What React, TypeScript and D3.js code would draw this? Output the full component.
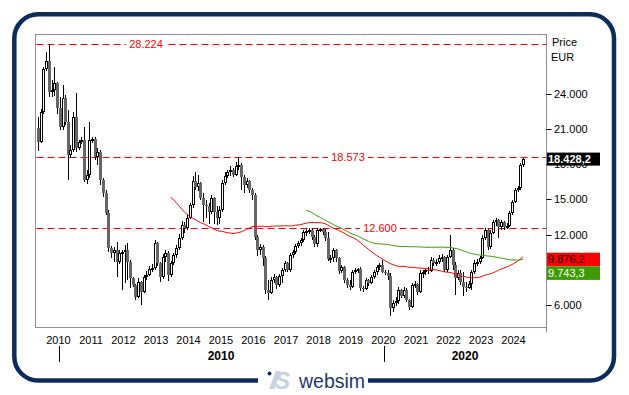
import React from 'react';
import * as d3 from 'd3';

// ---------- DATA (monthly candles, May 2009 – Apr 2024, EUR) ----------
const START_YEAR = 2009;
const START_MONTH = 4; // May (0-based)
const FIRST_OPEN = 21080;

const closes = [
  19883, 22439, 26102, 26784, 24143, 24313, 24909, 22780,
  21161, 23631, 21587, 18776, 19202, 22013, 19372, 19883, 20053, 16646, 17072, 20053,
  20139, 18606, 19031, 16646, 15538, 13834, 10853, 10427, 10683, 9660, 10427, 10512,
  10683, 9660, 8297, 7701, 6678, 7956, 7104, 8382, 8553, 9064, 9149, 11279,
  9575, 8382, 10086, 10427, 8553, 9575, 10257, 10853, 11705, 12812, 12557, 13409,
  14516, 16560, 16049, 16390, 15112, 14516, 14431, 13920, 15112, 13920, 13409, 14090,
  16390, 16986, 17327, 17498, 17072, 17838, 17924, 16901, 16220, 16560, 15794, 15368,
  11790, 10683, 10938, 10001, 7275, 7019, 8127, 8382, 7701, 8468, 8979, 9575,
  8979, 10257, 10512, 11023, 11279, 11534, 12216, 12301, 12386, 11790, 11194, 12386,
  12471, 12216, 11705, 9916, 10001, 10683, 10001, 8893, 9234, 8127, 7701, 7530,
  8808, 8979, 9064, 7445, 7360, 8127, 7871, 8382, 8808, 9234, 9405, 8808,
  8723, 8468, 5741, 6167, 6337, 7275, 6764, 7275, 6423, 5826, 7701, 7786,
  7104, 8723, 8808, 8979, 8893, 9831, 9575, 9660, 10001, 10086, 8979, 10086,
  10683, 9405, 8297, 8723, 7956, 7530, 7445, 7786, 8808, 9575, 9660, 10001,
  11705, 12386, 10938, 12131, 13068, 13238, 12642, 13068, 12642, 12727, 13834, 14772,
  15794, 15964, 17924, 18428.2,
];

const highs = [
  22013, 22694, 26272, 27550, 28224, 25165, 26272, 25000,
  23717, 24739, 23887, 22609, 19627, 22439, 24058, 20053, 20309, 21161, 17498, 21587,
  20309, 20309, 19372, 19202, 16816, 15794, 14090, 11023, 10938, 11364, 10683, 10683,
  11108, 11279, 9831, 8382, 7786, 8297, 8041, 8553, 8893, 9319, 9490, 11534,
  11364, 9660, 10342, 10683, 10597, 9745, 10427, 11108, 12045, 13153, 13068, 13749,
  14686, 16986, 17327, 17072, 16475, 15538, 14942, 14686, 15368, 15200, 14431, 14431,
  16646, 17327, 17498, 17838, 17668, 18179, 18573, 18100, 17072, 16816, 16646, 15964,
  15538, 11960, 11194, 11108, 10171, 8127, 8382, 8638, 8468, 8638, 9149, 9745,
  9660, 10427, 10683, 11194, 11449, 11705, 12386, 12471, 12557, 12557, 11960, 12557,
  12600, 12557, 12471, 12216, 10257, 10853, 10760, 10085, 9405, 9320, 8297, 8127,
  8979, 9149, 9149, 9234, 7615, 8297, 8210, 8553, 8979, 9405, 9575, 9831,
  8979, 8979, 8723, 6423, 6678, 7530, 7360, 7530, 7445, 6508, 7871, 8041,
  7871, 8979, 8979, 9149, 9234, 10086, 10001, 9916, 10257, 10342, 10170, 10257,
  11960, 10853, 9660, 8979, 8979, 8808, 7956, 8041, 8979, 9831, 9916, 10171,
  11960, 12557, 12471, 12386, 13238, 13409, 13323, 13238, 13150, 12983, 14005, 14942,
  15964, 16135, 18094, 18480,
];

const lows = [
  19117, 19798, 22268, 25932, 23717, 23717, 23802, 22268,
  20905, 20905, 21331, 16646, 18520, 19031, 19031, 19202, 19713, 16475, 16305, 16816,
  19798, 18350, 17924, 16220, 15197, 13664, 10512, 10001, 9660, 8382, 9490, 7275,
  7871, 8127, 7445, 7530, 6423, 6593, 5997, 7019, 8127, 8468, 8808, 8979,
  9319, 7956, 8212, 9660, 8041, 8382, 9405, 10001, 10683, 11534, 12131, 12386,
  13323, 14260, 15794, 15709, 14942, 13068, 13409, 12897, 13749, 12897, 12812, 12897,
  13920, 16220, 16816, 16986, 16901, 16986, 17498, 15794, 15538, 15964, 15538, 14942,
  11534, 10171, 10257, 9319, 6934, 6423, 6950, 7871, 7360, 7530, 7871, 8808,
  8808, 8808, 10001, 10342, 10853, 11023, 11364, 11875, 12045, 11534, 10938, 10938,
  12216, 11960, 11449, 9745, 9575, 9660, 9660, 8638, 8723, 7871, 7445, 7275,
  7445, 8638, 8723, 7189, 7104, 7275, 7615, 7786, 8212, 8553, 8979, 8723,
  8553, 8127, 5060, 5400, 5911, 6082, 6593, 6593, 6252, 5571, 5741, 7445,
  6849, 7019, 8297, 8553, 8638, 8808, 9319, 9319, 9490, 9660, 8808, 8808,
  10001, 8979, 6849, 8127, 7701, 6764, 7104, 7360, 7275, 8638, 9319, 9490,
  9916, 11534, 10683, 10768, 12045, 12727, 11705, 12386, 12386, 12471, 12640, 13664,
  14686, 15623, 15794, 17753,
];

const levelValues = [28224, 18573, 12600];
const levelLabels = ['28.224', '18.573', '12.600'];
const yTickValues = [6000, 12000, 15000, 18000, 21000, 24000];
const yearTicks = [2010, 2011, 2012, 2013, 2014, 2015, 2016, 2017, 2018, 2019, 2020, 2021, 2022, 2023, 2024];
const decadeTicks = [2010, 2020];
const maPeriods = [50, 100];
const maValues = [9876.2, 9743.3];
const maLabels = ['9.876,2', '9.743,3'];
const lastLabel = '18.428,2';
const axisTitle = ['Price', 'EUR'];
const brand = 'websim';

// ---------- LAYOUT ----------
const W = 629;
const H = 395;
const PL = 35.5, PT = 34.5, PR = 546.5, PB = 327.5;
const levelLabelX = [146, 348, 380];
const NAVY = '#0c2c5a';
const FONT = '"Liberation Sans", Arial, sans-serif';

const de = d3.formatLocale({ decimal: ',', thousands: '.', grouping: [3], currency: ['', ''] });
const fmtTick = de.format(',.0f');

export default function App() {
  const x = d3.scaleTime()
    .domain([new Date(2010, 0, 1), new Date(2020, 0, 1)])
    .range([58.5, 383.5]);
  const y = d3.scaleLinear().domain([6000, 24000]).range([305, 93.7]);

  const candles = closes.map((c, i) => {
    const date = new Date(START_YEAR, START_MONTH + i, 15);
    const open = i === 0 ? FIRST_OPEN : closes[i - 1];
    return { date, open, close: c, high: highs[i], low: lows[i] };
  });

  const mas = maPeriods.map((p) =>
    candles.map((d, i) =>
      i >= p - 1 ? { date: d.date, v: d3.mean(closes.slice(i - p + 1, i + 1)) as number } : null
    ).filter(Boolean) as { date: Date; v: number }[]
  );
  const line = d3.line<{ date: Date; v: number }>().x((d) => x(d.date)).y((d) => y(d.v));
  const maColors = ['#ff0000', '#3c9c00'];

  const yr = (yv: number) => x(new Date(yv, 0, 1));

  const boxH = 13.6;
  const lastY = y(closes[closes.length - 1]);
  const redTop = y(maValues[0]) - boxH / 2;
  const greenTop = Math.max(y(maValues[1]) - boxH / 2, redTop + boxH);

  return (
    <svg width={W} height={H} style={{ position: 'absolute', left: 0, top: 0, background: '#fff' }}
      fontFamily={FONT}>
      {/* outer frame */}
      <rect x={14.3} y={14.3} width={599.7} height={366.2} rx={24} ry={24}
        fill="#fff" stroke={NAVY} strokeWidth={4.5} />
      <rect x={258} y={374} width={110} height={14} fill="#fff" />

      {/* plot frame */}
      <rect x={PL} y={PT} width={PR - PL} height={PB - PT} fill="none" stroke="#8c8c9c" strokeWidth={1} />
      <line x1={PR} x2={PR} y1={PB} y2={PB + 5} stroke="#8c8c9c" />

      {/* level lines */}
      {levelValues.map((v, i) => (
        <g key={'lv' + i}>
          <line x1={PL + 1} x2={PR} y1={Math.round(y(v)) + 0.5} y2={Math.round(y(v)) + 0.5}
            stroke="#ff0000" strokeWidth={1} strokeDasharray="7,4" />
          <rect x={levelLabelX[i] - 20} y={y(v) - 6} width={40} height={12} fill="#fff" />
          <text x={levelLabelX[i]} y={y(v) + 4} fontSize={11} fill="#ff0000" textAnchor="middle">
            {levelLabels[i]}
          </text>
        </g>
      ))}

      {/* candles */}
      <g shapeRendering="crispEdges">
        {candles.map((d, i) => {
          const cx = Math.round(x(d.date));
          const up = d.close >= d.open;
          const yo = y(d.open), yc = y(d.close);
          const top = Math.round(Math.min(yo, yc));
          const bot = Math.round(Math.max(yo, yc));
          const h = Math.max(1, bot - top);
          return (
            <g key={'c' + i}>
              <line x1={cx + 0.5} x2={cx + 0.5} y1={Math.round(y(d.high))} y2={Math.round(y(d.low))}
                stroke="#000" strokeWidth={1} />
              {up ? (
                <rect x={cx - 0.5} y={top + 0.5} width={2} height={Math.max(1, h - 1)}
                  fill="#fff" stroke="#000" strokeWidth={1} />
              ) : (
                <rect x={cx - 1} y={top} width={3} height={h} fill="#666666" />
              )}
            </g>
          );
        })}
      </g>

      {/* moving averages */}
      {mas.map((m, i) => (
        <path key={'ma' + i} d={line(m) || ''} fill="none" stroke={maColors[i]} strokeWidth={1} />
      ))}

      {/* right axis */}
      {yTickValues.map((v) => (
        <g key={'yt' + v}>
          <line x1={PR} x2={PR + 5} y1={Math.round(y(v)) + 0.5} y2={Math.round(y(v)) + 0.5} stroke="#000" />
          <text x={554} y={y(v) + 4} fontSize={11} fill="#000">{fmtTick(v)}</text>
        </g>
      ))}
      <text x={552} y={45.5} fontSize={11} fill="#000">{axisTitle[0]}</text>
      <text x={551} y={60.5} fontSize={11} fill="#000">{axisTitle[1]}</text>

      {/* value boxes */}
      <rect x={547} y={lastY - 6.5} width={53} height={13} fill="#000" />
      <text x={548} y={lastY + 4} fontSize={11} fill="#fff" fontWeight="bold">{lastLabel}</text>
      <rect x={547} y={redTop} width={53} height={boxH} fill="#ff0000" />
      <text x={548} y={redTop + 10.5} fontSize={11} fill="#000">{maLabels[0]}</text>
      <rect x={547} y={greenTop} width={53} height={boxH} fill="#3c9c00" />
      <text x={548} y={greenTop + 10.5} fontSize={11} fill="#fff">{maLabels[1]}</text>

      {/* x axis */}
      {yearTicks.map((t) => (
        <text key={'yr' + t} x={yr(t)} y={343.5} fontSize={11} textAnchor="middle" fill="#000">{t}</text>
      ))}
      {decadeTicks.map((t) => {
        const a = yr(t);
        const b = Math.min(yr(t + 10), PR);
        return (
          <g key={'dc' + t}>
            <line x1={Math.round(a) + 0.5} x2={Math.round(a) + 0.5} y1={346} y2={362} stroke="#000" />
            <text x={(a + b) / 2} y={360} fontSize={12} fontWeight="bold" textAnchor="middle" fill="#000">{t}</text>
          </g>
        );
      })}

      {/* brand */}
      <circle cx={269.5} cy={373.5} r={2} fill={NAVY} />
      <text x={270} y={388.5} fontSize={23} fontStyle="italic" fontWeight="bold" fill="#c7d1df"
        letterSpacing={-4}>//S</text>
      <text x={299} y={388} fontSize={19.5} fill="#1d3a6a">{brand}</text>
    </svg>
  );
}
